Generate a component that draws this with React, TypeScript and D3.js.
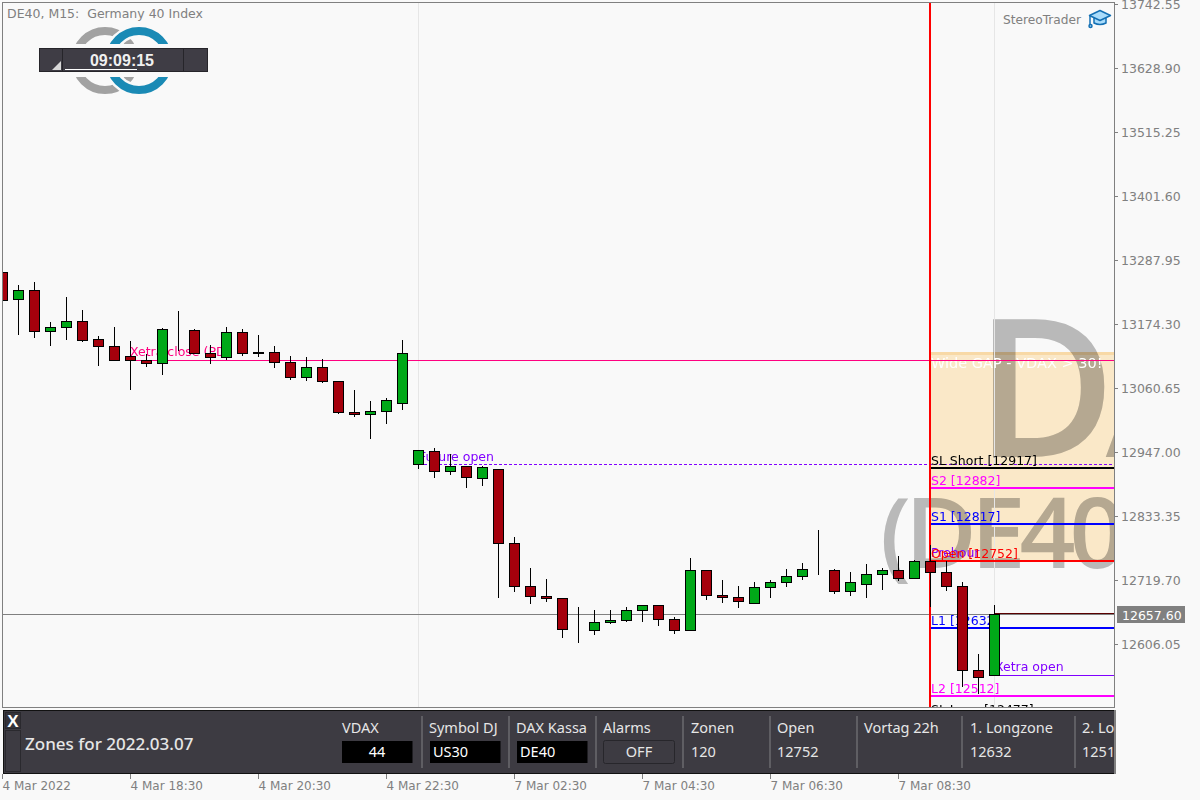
import React, { useRef, useEffect } from 'react';
import * as d3 from 'd3';

// M15 bars: open, high, low, close
const opens = [13265.7,13217.8,13233.8,13160.9,13168.1,13178.7,13146.8,13134.3,13116.6,13109.5,13104.2,13162.7,13162.7,13121.9,13114.8,13159.1,13123.6,13123.6,13105.9,13079.3,13097.0,13072.1,13017.1,13013.6,13018.9,13033.1,12924.8,12947.8,12912.3,12921.2,12899.9,12915.9,12784.5,12708.0,12690.3,12686.8,12631.7,12629.9,12644.1,12647.7,12665.4,12674.3,12649.5,12629.9,12736.5,12692.1,12688.6,12677.9,12706.3,12715.1,12725.8,12736.5,12736.5,12699.2,12711.6,12729.4,12736.5,12722.3,12752.5,12732.9,12708.0,12558.9,12550.0];
const highs = [13265.7,13244.4,13249.7,13178.7,13223.1,13200.0,13153.8,13169.8,13145.0,13121.9,13168.1,13198.2,13166.3,13137.9,13169.8,13166.3,13155.6,13136.1,13118.3,13116.6,13113.0,13073.9,13058.0,13038.4,13043.7,13146.8,12949.6,12955.0,12944.3,12921.2,12923.0,12915.9,12796.8,12741.8,12722.3,12686.8,12672.6,12667.2,12667.2,12672.6,12674.3,12674.3,12654.8,12759.5,12738.3,12720.5,12709.8,12716.9,12720.5,12740.0,12750.7,12809.3,12740.0,12734.7,12748.9,12741.8,12763.1,12756.0,12782.7,12754.2,12716.9,12589.1,12676.1];
const lows = [13216.0,13155.6,13150.3,13136.1,13146.8,13143.2,13100.6,13109.5,13058.0,13098.8,13084.6,13127.2,13121.9,13104.2,13111.2,13118.3,13116.6,13097.0,13075.7,13073.9,13070.4,13015.4,13010.0,12970.9,12997.6,13022.5,12917.7,12901.6,12907.0,12883.9,12887.4,12688.6,12699.2,12677.9,12681.4,12617.5,12608.6,12622.8,12642.4,12645.9,12645.9,12638.8,12624.6,12629.9,12685.0,12679.6,12670.8,12677.9,12688.6,12708.0,12720.5,12729.4,12695.6,12692.1,12688.6,12702.8,12718.7,12722.3,12672.6,12701.0,12530.5,12518.1,12550.0];
const closes = [13216.0,13233.8,13160.9,13168.1,13178.7,13145.0,13134.3,13109.5,13109.5,13104.2,13164.5,13162.7,13121.9,13114.8,13159.1,13121.9,13121.9,13105.9,13079.3,13097.0,13072.1,13017.1,13013.6,13018.9,13038.4,13121.9,12949.6,12912.3,12921.2,12901.6,12919.4,12784.5,12708.0,12690.3,12686.8,12631.7,12631.7,12644.1,12647.7,12665.4,12674.3,12649.5,12629.9,12736.5,12692.1,12688.6,12681.4,12706.3,12715.1,12725.8,12738.3,12736.5,12699.2,12715.1,12729.4,12736.5,12722.3,12752.5,12732.9,12708.0,12558.9,12546.5,12657.6];

const priceTicks = ['13742.55','13628.90','13515.25','13401.60','13287.95','13174.30','13060.65','12947.00','12833.35','12719.70','12606.05'];
const timeLabels = ['4 Mar 2022','4 Mar 18:30','4 Mar 20:30','4 Mar 22:30','7 Mar 02:30','7 Mar 04:30','7 Mar 06:30','7 Mar 08:30'];
const timeBars = [0, 8, 16, 24, 32, 40, 48, 56];
const bidPrice = 12657.6;

const levelNames = ['SL Short [12917]','S2 [12882]','S1 [12817]','Open [12752]','L1 [12632]','L2 [12512]','SL Long [12477]'];
const levelPrices = [12919.1, 12883.1, 12819.7, 12753.4, 12634.4, 12514.2, 12477];
const levelColors = ['#000000','#ff00ff','#0000ff','#ff0000','#0000ff','#ff00ff','#000000'];

const panelLabels = ['VDAX','Symbol DJ','DAX Kassa','Alarms','Zonen','Open','Vortag 22h','1. Longzone','2. Longzone'];
const panelValues = ['44','US30','DE40','OFF','120','12752','','12632','12512'];
const panelX = [342, 429, 516, 603, 691, 777, 864, 970, 1082];
const panelSeps = [421, 508, 595, 682, 769, 856, 961, 1074];

const AXIS_FONT = '"DejaVu Sans", sans-serif';
const PANEL_FONT = '"Noto Sans", sans-serif';

const App: React.FC = () => {
  const svgRef = useRef<SVGSVGElement>(null);

  useEffect(() => {
    if (!svgRef.current) return;
    const svg = d3.select(svgRef.current);
    svg.selectAll('*').remove();

    const left = 2, top = 2, right = 1114, bottom = 707;
    const x = d3.scaleLinear().domain([0, 62]).range([2.5, 994.5]);
    const y = d3.scaleLinear().domain([+priceTicks[0], +priceTicks[10]]).range([4, 644]);
    // MT4 draws on whole pixels
    const row = (p: number) => Math.floor(y(p)) + 0.5;

    svg.append('rect').attr('width', 1200).attr('height', 800).attr('fill', '#f9f9f9');

    const defs = svg.append('defs');
    defs.append('clipPath').attr('id', 'plot-clip').append('rect')
      .attr('x', left).attr('y', top).attr('width', right - left).attr('height', bottom - top);
    defs.append('clipPath').attr('id', 'panel-clip').append('rect')
      .attr('x', 3).attr('y', 711).attr('width', 1112).attr('height', 62);

    const plot = svg.append('g').attr('clip-path', 'url(#plot-clip)');

    // gap zone
    plot.append('rect').attr('x', 930).attr('y', 352).attr('width', 184).attr('height', 209).attr('fill', '#fae8c8');
    plot.append('rect').attr('x', 930).attr('y', 352).attr('width', 184).attr('height', 3).attr('fill', '#f8d9a6');

    // watermark
    const mark = plot.append('g').style('mix-blend-mode', 'multiply')
      .attr('fill', '#b9b9b9').attr('font-family', '"Open Sans", sans-serif').attr('font-weight', 600);
    mark.append('text').attr('x', 975).attr('y', 457).attr('font-size', 192).attr('letter-spacing', -10).text('DAX');
    mark.append('text').attr('x', 880).attr('y', 568).attr('font-size', 98).attr('letter-spacing', -6).text('(DE40)');

    // day separators
    [26, 62].forEach(i => {
      plot.append('line').attr('x1', x(i)).attr('x2', x(i)).attr('y1', top).attr('y2', bottom)
        .attr('stroke', '#e6e6e6').attr('shape-rendering', 'crispEdges');
    });

    plot.append('text').attr('x', 931).attr('y', 368).attr('fill', '#ffffff')
      .attr('font-family', AXIS_FONT).attr('font-size', 14.5).text('Wide GAP - VDAX > 30!');

    const label = (tx: number, ty: number, color: string, t: string) =>
      plot.append('text').attr('x', tx).attr('y', ty).attr('fill', color)
        .attr('font-family', AXIS_FONT).attr('font-size', 12.5).text(t);

    // session lines
    const hline = (x1: number, price: number, color: string, w = 1, dash = '') =>
      plot.append('line').attr('x1', x1).attr('x2', right)
        .attr('y1', w === 2 ? Math.round(y(price)) : row(price))
        .attr('y2', w === 2 ? Math.round(y(price)) : row(price))
        .attr('stroke', color).attr('stroke-width', w).attr('stroke-dasharray', dash)
        .attr('shape-rendering', 'crispEdges');

    label(130, 356, '#ff0080', 'Xetra close (PD)');
    hline(x(8), 13109.5, '#ff0080');
    label(419, 461, '#8000ff', 'Future open');
    hline(x(26), 12924.8, '#8000ff', 1, '3,2');
    label(995, 671, '#8000ff', 'Xetra open');
    hline(x(62), 12550, '#8000ff');
    label(931, 557, '#8000ff', 'Prehour');

    levelNames.forEach((name, i) => {
      hline(930, levelPrices[i], levelColors[i], 2);
      label(931, Math.round(y(levelPrices[i])) - 3, levelColors[i], name);
    });

    // bid line and the last bar's marker just above it
    hline(x(62), bidPrice + 2, '#5a0000');
    hline(left, bidPrice, '#808080');

    plot.append('line').attr('x1', 930).attr('x2', 930).attr('y1', top).attr('y2', bottom)
      .attr('stroke', '#ff0000').attr('stroke-width', 2).attr('shape-rendering', 'crispEdges');

    // candles
    const candles = plot.selectAll('g.candle').data(d3.range(opens.length)).enter()
      .append('g').attr('class', 'candle').attr('shape-rendering', 'crispEdges');
    candles.append('line')
      .attr('x1', i => x(i)).attr('x2', i => x(i))
      .attr('y1', i => row(highs[i])).attr('y2', i => row(lows[i]) + 0.5)
      .attr('stroke', '#000');
    candles.append('rect')
      .attr('x', i => x(i) - 5).attr('width', 10)
      .attr('y', i => row(Math.max(opens[i], closes[i])))
      .attr('height', i => row(Math.min(opens[i], closes[i])) - row(Math.max(opens[i], closes[i])))
      .attr('fill', i => closes[i] >= opens[i] ? '#00a818' : '#a5000c')
      .attr('stroke', '#000');

    // frame
    svg.append('rect').attr('x', left + 0.5).attr('y', top + 0.5)
      .attr('width', right - left).attr('height', bottom - top)
      .attr('fill', 'none').attr('stroke', '#808080').attr('shape-rendering', 'crispEdges');

    // price axis
    const yAxis = svg.append('g').attr('font-family', AXIS_FONT).attr('font-size', 12.5);
    priceTicks.forEach(t => {
      const py = Math.round(y(+t)) + 0.5;
      yAxis.append('line').attr('x1', right).attr('x2', right + 4).attr('y1', py).attr('y2', py)
        .attr('stroke', '#808080').attr('shape-rendering', 'crispEdges');
      yAxis.append('text').attr('x', 1121).attr('y', py + 4.5).attr('fill', '#808080').text(t);
    });
    svg.append('rect').attr('x', 1117).attr('y', 606).attr('width', 68).attr('height', 17).attr('fill', '#808080');
    svg.append('text').attr('x', 1122).attr('y', 619.5).attr('fill', '#ffffff')
      .attr('font-family', AXIS_FONT).attr('font-size', 12.5).text(bidPrice.toFixed(2));

    // time axis
    const xAxis = svg.append('g').attr('font-family', AXIS_FONT).attr('font-size', 12);
    timeLabels.forEach((t, i) => {
      const px = x(timeBars[i]);
      xAxis.append('line').attr('x1', px).attr('x2', px).attr('y1', 774).attr('y2', 779)
        .attr('stroke', '#808080').attr('shape-rendering', 'crispEdges');
      xAxis.append('text').attr('x', px).attr('y', 790).attr('fill', '#808080').text(t);
    });

    // title and branding
    svg.append('text').attr('x', 7).attr('y', 18).attr('fill', '#808080')
      .attr('font-family', AXIS_FONT).attr('font-size', 12.5).attr('xml:space', 'preserve')
      .style('white-space', 'pre').text('DE40, M15:  Germany 40 Index');
    svg.append('text').attr('x', 1003).attr('y', 24).attr('fill', '#808080')
      .attr('font-family', AXIS_FONT).attr('font-size', 12.2).text('StereoTrader');

    const hat = svg.append('g').attr('stroke', '#1470b4').attr('stroke-width', 1.5).attr('fill', '#a9dcfb').attr('stroke-linejoin', 'round');
    hat.append('path').attr('d', 'M1094 18v5q6 3 12 0v-5z');
    hat.append('path').attr('d', 'M1100 10.5l10.5 5-10.5 5-10.5-5z');
    hat.append('path').attr('d', 'M1090 16v9').attr('fill', 'none');
    hat.append('circle').attr('cx', 1090.5).attr('cy', 26).attr('r', 1.5);

    // logo, cut by a band behind the clock
    const logo = svg.append('g').attr('fill', 'none').attr('stroke-width', 8);
    logo.append('circle').attr('cx', 105).attr('cy', 60.5).attr('r', 29.5).attr('stroke', '#a2a2a2');
    logo.append('circle').attr('cx', 139).attr('cy', 60.5).attr('r', 29.5).attr('stroke', '#f9f9f9').attr('stroke-width', 13);
    logo.append('circle').attr('cx', 139).attr('cy', 60.5).attr('r', 29.5).attr('stroke', '#1a8ab5');
    svg.append('rect').attr('x', 70).attr('y', 44).attr('width', 105).attr('height', 33).attr('fill', '#f9f9f9');

    // clock
    const clock = svg.append('g').attr('shape-rendering', 'crispEdges');
    [[39, 23], [62, 121], [183, 24]].forEach(([cx, w]) => {
      clock.append('rect').attr('x', cx + 0.5).attr('y', 48.5).attr('width', w).attr('height', 23)
        .attr('fill', '#3f3d45').attr('stroke', '#26252a');
    });
    svg.append('path').attr('d', 'M52 70L61 61V70Z').attr('fill', '#d8d8d8');
    svg.append('text').attr('x', 122).attr('y', 65.5).attr('text-anchor', 'middle').attr('fill', '#f0f0f0')
      .attr('font-family', '"Liberation Sans", sans-serif').attr('font-weight', 700).attr('font-size', 16).text('09:09:15');
    svg.append('rect').attr('x', 65).attr('y', 69).attr('width', 72).attr('height', 1).attr('fill', '#ffffff');

    // bottom panel
    svg.append('rect').attr('x', 3.5).attr('y', 710.5).attr('width', 1111).attr('height', 63)
      .attr('fill', '#3d3b42').attr('stroke', '#111').attr('shape-rendering', 'crispEdges');
    svg.append('rect').attr('x', 1114).attr('y', 710).attr('width', 2).attr('height', 64).attr('fill', '#808080');
    const panel = svg.append('g').attr('clip-path', 'url(#panel-clip)').attr('font-family', PANEL_FONT).attr('font-size', 14.5).attr('fill', '#e6e6e6');

    panel.append('rect').attr('x', 5.5).attr('y', 712.5).attr('width', 15).attr('height', 16).attr('fill', '#35333a').attr('stroke', '#2a292e');
    panel.append('rect').attr('x', 5.5).attr('y', 730.5).attr('width', 15).attr('height', 41).attr('fill', '#3d3b42').attr('stroke', '#2a292e');
    panel.append('text').attr('x', 13).attr('y', 727).attr('text-anchor', 'middle').attr('fill', '#fff')
      .attr('font-family', '"Liberation Sans", sans-serif').attr('font-weight', 700).attr('font-size', 17).text('X');
    panel.append('text').attr('x', 25).attr('y', 750).attr('font-size', 17).attr('font-weight', 500).text('Zones for 2022.03.07');

    panelSeps.forEach(sx => {
      panel.append('rect').attr('x', sx).attr('y', 716).attr('width', 2).attr('height', 52).attr('fill', '#5f5e63');
    });
    panelLabels.forEach((t, i) => {
      panel.append('text').attr('x', panelX[i]).attr('y', 733).text(t);
      if (i < 3) {
        panel.append('rect').attr('x', panelX[i] + (i === 0 ? 0 : 1)).attr('y', 741).attr('width', 70.5).attr('height', 22).attr('fill', '#000');
        panel.append('text').attr('x', i === 0 ? panelX[i] + 35 : panelX[i] + 4).attr('y', 757)
          .attr('text-anchor', i === 0 ? 'middle' : 'start').attr('fill', '#fff').text(panelValues[i]);
      } else if (i === 3) {
        panel.append('rect').attr('x', 603.5).attr('y', 740.5).attr('width', 71).attr('height', 23).attr('rx', 2)
          .attr('fill', '#3d3b42').attr('stroke', '#27262b');
        panel.append('text').attr('x', 639).attr('y', 757).attr('text-anchor', 'middle').text(panelValues[i]);
      } else {
        panel.append('text').attr('x', panelX[i]).attr('y', 757).text(panelValues[i]);
      }
    });
  }, []);

  return (
    <svg ref={svgRef} width={1200} height={800}
      style={{ position: 'absolute', left: 0, top: 0, display: 'block' }} />
  );
};

export default App;
